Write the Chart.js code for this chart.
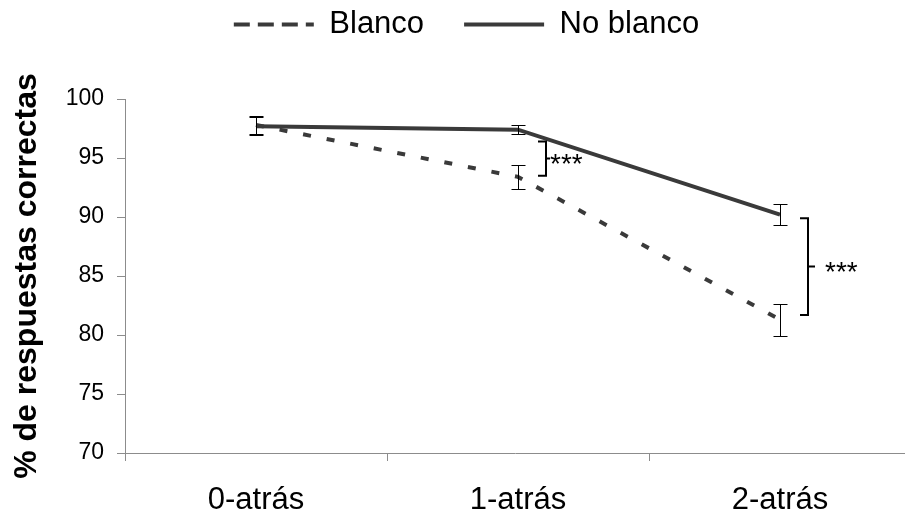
<!DOCTYPE html>
<html>
<head>
<meta charset="utf-8">
<script src="https://cdn.jsdelivr.net/npm/chart.js@4.4.1/dist/chart.umd.min.js"></script>
<style>
html,body{margin:0;padding:0;background:#fff;overflow:hidden;}
#wrap{width:905px;height:517px;position:relative;}
</style>
</head>
<body>
<div id="wrap"><canvas id="c" width="905" height="517"></canvas></div>
<script>
// ---- data ----
const categories = ['0-atrás', '1-atrás', '2-atrás'];
const seriesNames = ['Blanco', 'No blanco'];
const blanco = [97.8, 93.4, 81.3];
const blancoErr = [0.75, 1.0, 1.35];
const noBlanco = [97.7, 97.4, 90.2];
const noBlancoErr = [0.75, 0.4, 0.9];
const yTicks = [70, 75, 80, 85, 90, 95, 100];
// significance brackets: category index, top value, bottom value, label
const bracketCat = [1, 2];
const bracketTop = [96.4, 89.9];
const bracketBottom = [93.5, 81.7];
const bracketLabel = ['***', '***'];

const lineColor = '#3a3a3a';
const axisColor = '#8c8c8c';
const FONT = '"Liberation Sans", Arial, sans-serif';

const errorBars = {
  id: 'errorBars',
  afterLayout(chart) {
    const lg = chart.legend;
    if (lg) {
      lg.top -= 49; lg.bottom -= 49;
      lg.left += 28;
    }
  },
  afterDatasetsDraw(chart) {
    const {ctx, scales: {x, y}} = chart;
    const errs = [blancoErr, noBlancoErr];
    ctx.save();
    ctx.strokeStyle = '#000';
    ctx.lineWidth = 1;
    chart.data.datasets.forEach((ds, di) => {
      ds.data.forEach((p, i) => {
        const px = Math.round(x.getPixelForValue(p.x)) + 0.5;
        const yt = Math.round(y.getPixelForValue(p.y + errs[di][i])) + 0.5;
        const yb = Math.round(y.getPixelForValue(p.y - errs[di][i])) + 0.5;
        ctx.beginPath();
        ctx.moveTo(px, yt); ctx.lineTo(px, yb);
        ctx.moveTo(px - 7, yt); ctx.lineTo(px + 7, yt);
        ctx.moveTo(px - 7, yb); ctx.lineTo(px + 7, yb);
        ctx.stroke();
      });
    });
    // brackets
    const stub = [4, 7];
    const gap = [4, 17];
    ctx.lineWidth = 2;
    ctx.fillStyle = '#000';
    ctx.font = '28px ' + FONT;
    ctx.textBaseline = 'alphabetic';
    bracketCat.forEach((c, i) => {
      const bx = Math.round(x.getPixelForValue(c)) + 28;
      const yt = y.getPixelForValue(bracketTop[i]);
      const yb = y.getPixelForValue(bracketBottom[i]);
      const ym = (yt + yb) / 2;
      ctx.beginPath();
      ctx.moveTo(bx - 8, yt); ctx.lineTo(bx, yt); ctx.lineTo(bx, yb); ctx.lineTo(bx - 8, yb);
      ctx.moveTo(bx, ym); ctx.lineTo(bx + stub[i], ym);
      ctx.stroke();
      ctx.fillText(bracketLabel[i], bx + gap[i], ym + 14);
    });
    ctx.restore();
  }
};

new Chart(document.getElementById('c'), {
  type: 'line',
  data: {
    datasets: [
      {
        label: seriesNames[0],
        data: blanco.map((v, i) => ({x: i, y: v})),
        borderColor: lineColor,
        backgroundColor: lineColor,
        borderWidth: 4,
        borderDash: [8, 16],
        pointRadius: 0,
        tension: 0
      },
      {
        label: seriesNames[1],
        data: noBlanco.map((v, i) => ({x: i, y: v})),
        borderColor: lineColor,
        backgroundColor: lineColor,
        borderWidth: 4,
        pointRadius: 0,
        tension: 0
      }
    ]
  },
  options: {
    responsive: false,
    animation: false,
    layout: {padding: {left: 0, right: 0, top: 18, bottom: 0}},
    plugins: {
      tooltip: {enabled: false},
      legend: {
        display: true,
        position: 'top',
        labels: {
          color: '#000',
          font: {family: FONT, size: 31},
          boxWidth: 80,
          boxHeight: 0,
          padding: 40,
          generateLabels(chart) {
            return chart.data.datasets.map((ds, i) => ({
              text: ds.label,
              fillStyle: 'rgba(0,0,0,0)',
              strokeStyle: lineColor,
              lineWidth: 4,
              lineDash: ds.borderDash || [],
              lineCap: 'butt',
              datasetIndex: i,
              hidden: false,
              fontColor: '#000'
            }));
          }
        }
      }
    },
    scales: {
      x: {
        type: 'linear',
        min: -0.5,
        max: 2.477,
        afterBuildTicks(s) {
          s.ticks = [-0.5, 0, 0.5, 1, 1.5, 2].map(v => ({value: v}));
        },
        afterFit(s) { s.height = 64; },
        grid: {
          drawOnChartArea: false,
          tickLength: 8,
          lineWidth: 1,
          color: ctx => (ctx.tick && Number.isInteger(ctx.tick.value)) ? 'rgba(0,0,0,0)' : axisColor
        },
        border: {display: true, color: axisColor, width: 1},
        ticks: {
          autoSkip: false,
          maxRotation: 0,
          color: '#000',
          padding: 21,
          font: {family: FONT, size: 31},
          callback: v => Number.isInteger(v) ? categories[v] : ''
        }
      },
      y: {
        min: 70,
        max: 100,
        afterBuildTicks(s) { s.ticks = yTicks.map(v => ({value: v})); },
        afterFit(s) { s.width = 125; },
        grid: {drawOnChartArea: false, tickLength: 8, color: axisColor},
        border: {display: true, color: axisColor, width: 1},
        ticks: {
          color: '#000',
          padding: 13,
          font: {family: FONT, size: 23}
        },
        title: {
          display: true,
          text: '% de respuestas correctas',
          color: '#000',
          padding: {top: 8, bottom: 0},
          font: {family: FONT, size: 32, weight: 'bold'}
        }
      }
    }
  },
  plugins: [errorBars]
});
</script>
</body>
</html>
